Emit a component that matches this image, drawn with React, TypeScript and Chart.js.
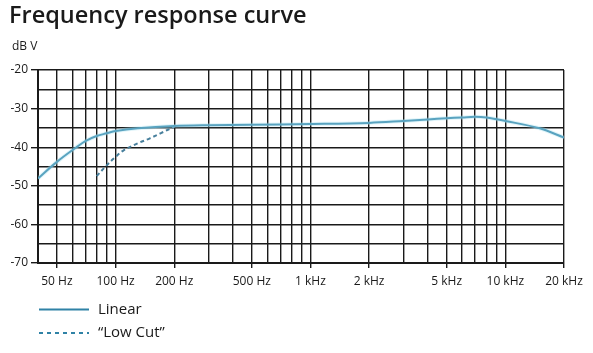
import { useEffect, useRef } from "react";
import { Chart, registerables } from "chart.js";

Chart.register(...registerables);

// Linear response (frequency in Hz, level in dB V)
const linearFreq = [40, 50, 63, 70, 80, 90, 100, 130, 200, 300, 500, 1000, 2000, 3000, 4000, 5000, 6000, 7000, 8000, 10000, 15000, 20000];
const linearDb = [-48.1, -43.8, -40.0, -38.4, -37.1, -36.4, -35.8, -35.1, -34.5, -34.3, -34.2, -34.0, -33.7, -33.2, -32.8, -32.5, -32.3, -32.1, -32.3, -33.2, -35.1, -37.5];

// "Low Cut" response
const lowCutFreq = [80, 90, 100, 110, 130, 150, 170, 200];
const lowCutDb = [-47.5, -44.7, -42.5, -40.8, -39.0, -37.7, -36.4, -34.7];

// Axis ticks
const xGridValues = [40, 50, 60, 70, 80, 90, 100, 200, 300, 400, 500, 600, 700, 800, 900, 1000, 2000, 3000, 4000, 5000, 6000, 7000, 8000, 9000, 10000, 20000];
const xLabelValues = [50, 100, 200, 500, 1000, 2000, 5000, 10000, 20000];
const xLabelTexts = ["50 Hz", "100 Hz", "200 Hz", "500 Hz", "1 kHz", "2 kHz", "5 kHz", "10 kHz", "20 kHz"];
const yMin = -70;
const yMax = -20;

const titleText = "Frequency response curve";
const unitText = "dB V";
const legendLabels = ["Linear", "\u201CLow Cut\u201D"];

const LINE = "#2f82a6";
const HALO = "rgba(170,225,242,0.35)";
const GRID = "#1a1a1a";
const TEXT = "#1a1a1a";
const FONT = "'Open Sans', 'DejaVu Sans', sans-serif";

const decorPlugin = {
  id: "decor",
  afterDraw(chart: any) {
    const ctx = chart.ctx;
    ctx.save();
    ctx.fillStyle = TEXT;
    ctx.textBaseline = "alphabetic";
    ctx.textAlign = "left";
    ctx.font = `600 23.5px ${FONT}`;
    ctx.fillText(titleText, 9, 23);
    ctx.font = `12px ${FONT}`;
    ctx.textBaseline = "middle";
    ctx.fillText(unitText, 12, 47);

    // legend
    ctx.strokeStyle = LINE;
    ctx.lineWidth = 2;
    ctx.beginPath();
    ctx.moveTo(39, 309.5);
    ctx.lineTo(89, 309.5);
    ctx.stroke();
    ctx.setLineDash([4, 4]);
    ctx.beginPath();
    ctx.moveTo(39, 333);
    ctx.lineTo(89, 333);
    ctx.stroke();
    ctx.setLineDash([]);
    ctx.font = `15px ${FONT}`;
    ctx.fillStyle = TEXT;
    ctx.fillText(legendLabels[0], 98, 310);
    ctx.fillText(legendLabels[1], 98, 333);
    ctx.restore();
  },
};

export default function App() {
  const ref = useRef<HTMLCanvasElement | null>(null);

  useEffect(() => {
    document.body.style.margin = "0";
    const canvas = ref.current;
    if (!canvas) return;
    const linearData = linearFreq.map((f, i) => ({ x: f, y: linearDb[i] }));
    const lowCutData = lowCutFreq.map((f, i) => ({ x: f, y: lowCutDb[i] }));

    const chart = new Chart(canvas, {
      type: "line",
      data: {
        datasets: [
          {
            label: "halo",
            data: linearData,
            borderColor: HALO,
            borderWidth: 4,
            pointRadius: 0,
            tension: 0.35,
            fill: false,
          },
          {
            label: legendLabels[0],
            data: linearData,
            borderColor: LINE,
            borderWidth: 2,
            pointRadius: 0,
            tension: 0.35,
            fill: false,
          },
          {
            label: legendLabels[1],
            data: lowCutData,
            borderColor: "#477f9c",
            borderWidth: 2,
            borderDash: [4, 3],
            pointRadius: 0,
            tension: 0.35,
            fill: false,
          },
        ],
      },
      options: {
        responsive: false,
        animation: false,
        events: [],
        layout: { padding: { left: 0, right: 29, top: 70, bottom: 60 } },
        plugins: {
          legend: { display: false },
          title: { display: false },
          tooltip: { enabled: false },
        },
        scales: {
          x: {
            type: "logarithmic",
            min: 40,
            max: 20000,
            afterBuildTicks: (axis: any) => {
              axis.ticks = xGridValues.map((v) => ({ value: v }));
            },
            afterFit: (axis: any) => {
              axis.height = 30;
            },
            grid: {
              color: GRID,
              lineWidth: 1.4,
              tickLength: 5,
              tickColor: (c: any) =>
                xLabelValues.includes(c.tick?.value) ? GRID : "rgba(0,0,0,0)",
            },
            border: { color: GRID, width: 2 },
            ticks: {
              autoSkip: false,
              maxRotation: 0,
              minRotation: 0,
              padding: 6,
              color: TEXT,
              font: { family: FONT, size: 12 },
              callback: (value: any) => {
                const i = xLabelValues.indexOf(Number(value));
                return i >= 0 ? xLabelTexts[i] : "";
              },
            },
          },
          y: {
            type: "linear",
            min: yMin,
            max: yMax,
            afterFit: (axis: any) => {
              axis.width = 38;
            },
            grid: {
              color: GRID,
              lineWidth: 1.4,
              tickLength: 7,
              tickColor: (c: any) =>
                c.tick && c.tick.value % 10 === 0 ? GRID : "rgba(0,0,0,0)",
            },
            border: { color: GRID, width: 2 },
            ticks: {
              stepSize: 5,
              padding: 3,
              color: TEXT,
              font: { family: FONT, size: 12 },
              callback: (value: any) =>
                Number(value) % 10 === 0 ? String(value) : "",
            },
          },
        },
      },
      plugins: [decorPlugin],
    });
    return () => chart.destroy();
  }, []);

  return (
    <div style={{ width: 593, height: 353, background: "#fff" }}>
      <canvas ref={ref} width={593} height={353} style={{ display: "block" }} />
    </div>
  );
}
